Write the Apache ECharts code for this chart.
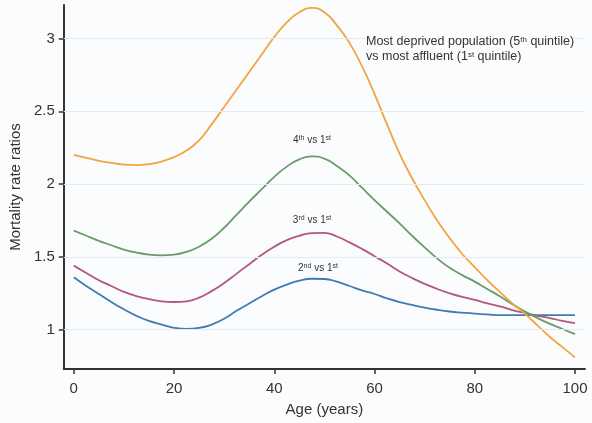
<!DOCTYPE html>
<html><head><meta charset="utf-8">
<script src="https://cdn.jsdelivr.net/npm/echarts@6/dist/echarts.min.js"></script>
<style>html,body{margin:0;padding:0;background:#fbfcfe}#c{width:592px;height:423px}</style>
</head><body><div id="c"></div>
<script>
const ages = [0,2.5,5,7.5,10,12.5,15,17.5,20,22.5,25,27.5,30,32.5,35,37.5,40,42.5,45,47.5,50,52.5,55,57.5,60,62.5,65,67.5,70,72.5,75,77.5,80,82.5,85,87.5,90,92.5,95,97.5,100];
const q5vs1 = [2.20,2.18,2.16,2.145,2.134,2.13,2.137,2.155,2.185,2.23,2.30,2.41,2.53,2.65,2.77,2.89,3.01,3.11,3.18,3.21,3.18,3.09,2.97,2.81,2.62,2.41,2.21,2.04,1.89,1.75,1.63,1.52,1.43,1.34,1.26,1.18,1.11,1.03,0.95,0.88,0.81];
const q4vs1 = [1.68,1.645,1.61,1.58,1.55,1.53,1.515,1.51,1.515,1.535,1.57,1.625,1.70,1.79,1.88,1.965,2.05,2.12,2.17,2.19,2.175,2.125,2.06,1.975,1.89,1.81,1.73,1.645,1.565,1.49,1.425,1.375,1.33,1.28,1.23,1.175,1.125,1.08,1.04,1.005,0.97];
const q3vs1 = [1.44,1.39,1.34,1.30,1.26,1.23,1.21,1.195,1.19,1.195,1.22,1.265,1.32,1.385,1.45,1.515,1.57,1.615,1.645,1.663,1.665,1.64,1.60,1.555,1.505,1.455,1.40,1.355,1.315,1.28,1.25,1.225,1.205,1.18,1.16,1.135,1.115,1.095,1.08,1.06,1.045];
const q2vs1 = [1.36,1.30,1.245,1.19,1.14,1.095,1.06,1.035,1.013,1.005,1.012,1.035,1.075,1.13,1.18,1.23,1.275,1.31,1.337,1.35,1.348,1.33,1.30,1.27,1.245,1.215,1.19,1.17,1.152,1.137,1.125,1.117,1.11,1.105,1.10,1.10,1.10,1.10,1.10,1.10,1.10];
const xTicks = [0,20,40,60,80,100];
const yTicks = [1,1.5,2,2.5,3];

const FONT = 'Liberation Sans, Arial, sans-serif';
const pair = arr => ages.map((a,i)=>[a,arr[i]]);
function sup(size){ return {s:{fontSize:size, verticalAlign:'top', fontFamily:FONT, fill:'#333', padding:[0,0,4,0]}}; }

const chart = echarts.init(document.getElementById('c'));
function lineSeries(name, arr, color){
  return {name, type:'line', data:pair(arr), smooth:0.5, symbol:'none',
    lineStyle:{color, width:1.8}, itemStyle:{color}, z:3};
}
chart.setOption({
  backgroundColor:'#fbfcfe',
  animation:false,
  grid:{left:61, right:7, top:5, bottom:54},
  xAxis:{type:'value', min:-2, max:102,
    axisLine:{show:true, onZero:false, lineStyle:{color:'#333', width:2}},
    axisTick:{show:true, length:5, customValues:xTicks, lineStyle:{color:'#333', width:1.5}},
    axisLabel:{customValues:xTicks, margin:12, fontSize:15, color:'#333', fontFamily:FONT},
    splitLine:{show:false},
    name:'Age (years)', nameLocation:'middle', nameGap:33,
    nameTextStyle:{fontSize:15, color:'#333', fontFamily:FONT}},
  yAxis:{type:'value', min:0.73, max:3.23,
    axisLine:{show:true, onZero:false, lineStyle:{color:'#333', width:2}},
    axisTick:{show:true, length:5, customValues:yTicks, lineStyle:{color:'#333', width:1.5}},
    axisLabel:{customValues:yTicks, margin:9, fontSize:15, color:'#333', fontFamily:FONT},
    splitLine:{show:false},
    name:'Mortality rate ratios', nameLocation:'middle', nameGap:39,
    nameTextStyle:{fontSize:15, color:'#333', fontFamily:FONT}},
  series:[
    {type:'line', data:[], silent:true, z:1,
     markLine:{silent:true, symbol:['none','none'], label:{show:false},
       lineStyle:{color:'#e4ebf0', type:'solid', width:1},
       data: yTicks.map(v=>({yAxis:v}))}},
    lineSeries('2nd vs 1st', q2vs1, '#3f7cb3'),
    lineSeries('3rd vs 1st', q3vs1, '#b5577a'),
    lineSeries('4th vs 1st', q4vs1, '#6a9b68'),
    lineSeries('5th vs 1st', q5vs1, '#f4a43e')
  ],
  graphic:[
    {type:'text', x:312, y:140, z:10, style:{text:'4{s|th} vs 1{s|st}', font:'10px '+FONT, fill:'#333', align:'center', verticalAlign:'middle', rich:sup(7)}},
    {type:'text', x:312, y:220, z:10, style:{text:'3{s|rd} vs 1{s|st}', font:'10px '+FONT, fill:'#333', align:'center', verticalAlign:'middle', rich:sup(7)}},
    {type:'text', x:318, y:268, z:10, style:{text:'2{s|nd} vs 1{s|st}', font:'10px '+FONT, fill:'#333', align:'center', verticalAlign:'middle', rich:sup(7)}},
    {type:'text', x:366, y:42, z:10, style:{text:'Most deprived population (5{s|th} quintile)', font:'12.5px '+FONT, fill:'#333', align:'left', verticalAlign:'middle', backgroundColor:'#fbfcfe', rich:sup(8)}},
    {type:'text', x:366, y:57, z:10, style:{text:'vs most affluent (1{s|st} quintile)', font:'12.5px '+FONT, fill:'#333', align:'left', verticalAlign:'middle', rich:sup(8)}}
  ]
});
</script></body></html>
